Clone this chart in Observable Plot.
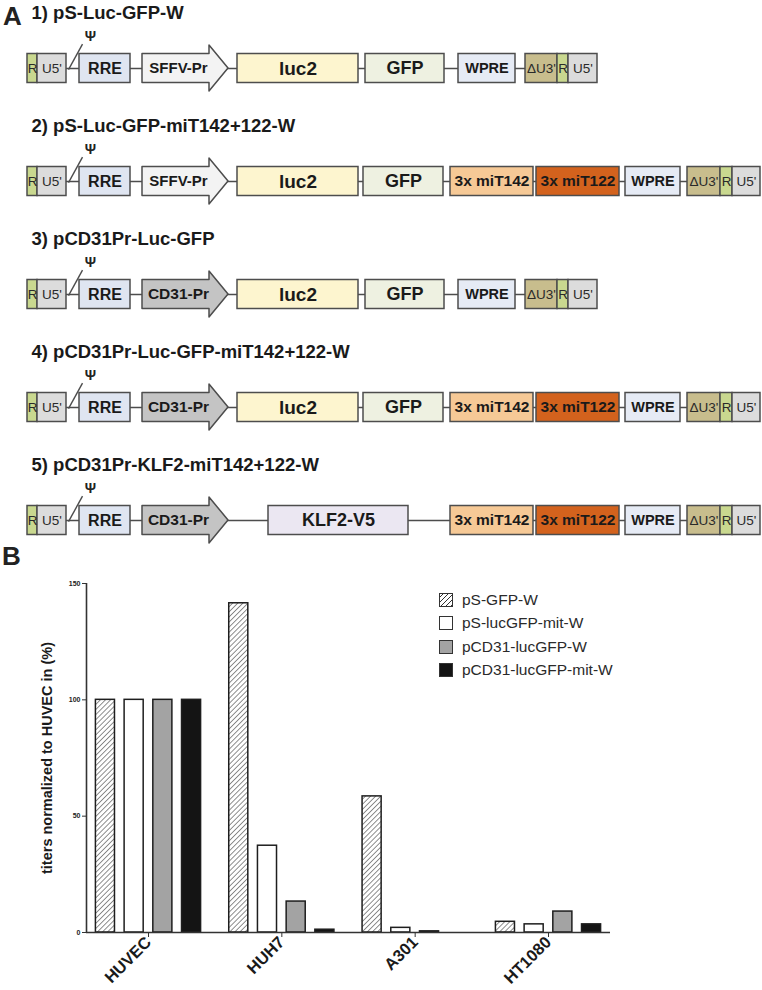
<!DOCTYPE html>
<html><head><meta charset="utf-8">
<script src="https://cdn.jsdelivr.net/npm/d3@7"></script>
<script src="https://cdn.jsdelivr.net/npm/@observablehq/plot@0.6"></script>
<style>
body{margin:0;background:#fff;font-family:"Liberation Sans",Arial,sans-serif;}
#wrap{position:relative;width:762px;height:990px;overflow:hidden;background:#fff;}
#a{position:absolute;left:0;top:0;}
#b{position:absolute;left:0;top:545px;}
.panel{position:absolute;font-weight:bold;font-size:26px;line-height:1;color:#222;}
#legend{position:absolute;left:439px;top:588px;font-size:15.5px;color:#2a2a2a;}
#legend .row{display:flex;align-items:center;height:23.5px;}
#legend .sw{width:12px;height:12px;border:1.4px solid #333;margin-right:9px;box-sizing:content-box;}
</style>
</head><body>
<div id="wrap">
  <div id="a"></div>
  <div id="b"></div>
  <div class="panel" style="left:3px;top:3px;">A</div>
  <div class="panel" style="left:2px;top:543px;">B</div>
  <div id="legend"></div>
</div>
<script>
// ---------- Panel A data: vector maps (feature name, start, end along the drawn construct) ----------
const constructNames = [
  "1) pS-Luc-GFP-W",
  "2) pS-Luc-GFP-miT142+122-W",
  "3) pCD31Pr-Luc-GFP",
  "4) pCD31Pr-Luc-GFP-miT142+122-W",
  "5) pCD31Pr-KLF2-miT142+122-W"
];
const construct1 = [["R",27,37],["U5'",37,66],["RRE",79,130],["SFFV-Pr",142,228],["luc2",237,358],["GFP",365,444],["WPRE",458,515],["ΔU3'",525,557],["R",557,568],["U5'",568,597]];
const construct2 = [["R",27,37],["U5'",37,66],["RRE",79,130],["SFFV-Pr",142,228],["luc2",237,358],["GFP",363,443],["3x miT142",450,533],["3x miT122",536,619],["WPRE",625,680],["ΔU3'",687,720],["R",720,732],["U5'",732,760]];
const construct3 = [["R",27,37],["U5'",37,66],["RRE",79,130],["CD31-Pr",142,228],["luc2",237,358],["GFP",365,444],["WPRE",458,515],["ΔU3'",525,557],["R",557,568],["U5'",568,597]];
const construct4 = [["R",27,37],["U5'",37,66],["RRE",79,130],["CD31-Pr",142,228],["luc2",237,358],["GFP",363,443],["3x miT142",450,533],["3x miT122",536,619],["WPRE",625,680],["ΔU3'",687,720],["R",720,732],["U5'",732,760]];
const construct5 = [["R",27,37],["U5'",37,66],["RRE",79,130],["CD31-Pr",142,228],["KLF2-V5",268,408],["3x miT142",450,533],["3x miT122",536,619],["WPRE",625,680],["ΔU3'",687,720],["R",720,732],["U5'",732,760]];

// ---------- Panel B data ----------
const cellLines = ["HUVEC","HUH7","A301","HT1080"];
const seriesNames = ["pS-GFP-W","pS-lucGFP-mit-W","pCD31-lucGFP-W","pCD31-lucGFP-mit-W"];
const pS_GFP_W = [100, 141.5, 58.5, 4.6];
const pS_lucGFP_mit_W = [100, 37.3, 2.0, 3.5];
const pCD31_lucGFP_W = [100, 13.3, 0.5, 9.0];
const pCD31_lucGFP_mit_W = [100, 1.2, 0, 3.5];
const yTicks = [0, 50, 100, 150];
const yLabel = "titers normalized to HUVEC in (%)";

// ---------- styles ----------
const fills = {"R":"#c9d88f","U5'":"#dcdcdc","RRE":"#dfe5f1","SFFV-Pr":"#f3f3f3","CD31-Pr":"#c4c4c4",
  "luc2":"#fdf5cf","GFP":"#eef1e1","WPRE":"#e6ebf5","ΔU3'":"#c8bd8d","3x miT142":"#f6c996",
  "3x miT122":"#d3621d","KLF2-V5":"#ebe7f2"};
const labelSize = {"luc2":19,"GFP":18,"KLF2-V5":18,"RRE":16,"SFFV-Pr":15,"CD31-Pr":15.5,
  "3x miT142":15.5,"3x miT122":15.5,"WPRE":14.5};
const thinLabels = new Set(["R","U5'","ΔU3'"]);
const seriesFill = ["url(#hatch)","#ffffff","#a3a3a3","#141414"];
const ink = "#4d4d4d";

// ---------- Panel A ----------
const WA = 762, HA = 548, rowTop = 68, rowStep = 113;
const rowsA = [construct1, construct2, construct3, construct4, construct5];
const feats = rowsA.flatMap((row, r) => row.map(([name, start, end]) => ({r, name, start, end})));
const isProm = d => d.name.endsWith("-Pr");
const boxes = feats.filter(d => !isProm(d));
const proms = feats.filter(isProm);
const hb = 14.5 / rowStep, ha = 23 / rowStep, head = 19;
const arrowPts = proms.flatMap((d, k) => [
  {k, name: d.name, x: d.start, y1: d.r - hb, y2: d.r + hb},
  {k, name: d.name, x: d.end - head, y1: d.r - hb, y2: d.r + hb},
  {k, name: d.name, x: d.end - head, y1: d.r - ha, y2: d.r + ha},
  {k, name: d.name, x: d.end, y1: d.r, y2: d.r}
]);
const rowInfo = rowsA.map((row, r) => ({
  r, title: constructNames[r],
  ltrEnd: row[1][2], rreStart: row[2][1],
  first: row[0][1], last: row[row.length - 1][1]
}));

const plotA = Plot.plot({
  width: WA, height: HA, margin: 0,
  style: {fontFamily: "'Liberation Sans', Arial, sans-serif", background: "transparent", overflow: "visible"},
  x: {domain: [0, WA], range: [0, WA], axis: null},
  y: {domain: [-rowTop / rowStep, (HA - rowTop) / rowStep], range: [0, HA], axis: null},
  marks: [
    Plot.ruleY(rowInfo, {y: "r", x1: "ltrEnd", x2: "last", stroke: ink, strokeWidth: 1.4}),
    Plot.link(rowInfo, {x1: d => d.ltrEnd + 2, y1: d => d.r + 0.01, x2: d => d.rreStart + 3, y2: d => d.r - 0.215,
      stroke: ink, strokeWidth: 1.4}),
    Plot.text(rowInfo, {x: d => d.rreStart + 11, y: d => d.r - 0.285, text: () => "Ψ",
      fontSize: 14, fontWeight: "bold", fill: "#222"}),
    Plot.text(rowInfo, {x: d => d.first + 4, y: d => d.r - 0.49, text: "title", textAnchor: "start",
      fontSize: 18.5, fontWeight: "bold", fill: "#1a1a1a"}),
    Plot.rect(boxes, {x1: "start", x2: "end", y1: d => d.r - hb, y2: d => d.r + hb,
      fill: d => fills[d.name], stroke: ink, strokeWidth: 1.5}),
    Plot.areaY(arrowPts, {x: "x", y1: "y1", y2: "y2", z: "k", fill: d => fills[d.name],
      stroke: ink, strokeWidth: 1.5, curve: "linear"}),
    Plot.text(boxes.filter(d => !thinLabels.has(d.name)), {x: d => (d.start + d.end) / 2, y: "r", text: "name",
      fontSize: d => labelSize[d.name], fontWeight: "bold", fill: "#1a1a1a"}),
    Plot.text(proms, {x: d => (d.start + d.end) / 2 - 7, y: "r", text: "name",
      fontSize: d => labelSize[d.name], fontWeight: "bold", fill: "#1a1a1a"}),
    Plot.text(boxes.filter(d => thinLabels.has(d.name)), {x: d => (d.start + d.end) / 2, y: "r", text: "name",
      fontSize: 13.5, fill: "#2a2a2a"})
  ]
});
document.getElementById("a").appendChild(plotA);

// ---------- Panel B ----------
const seriesValues = [pS_GFP_W, pS_lucGFP_mit_W, pCD31_lucGFP_W, pCD31_lucGFP_mit_W];
const bars = seriesValues.flatMap((vals, si) => vals.map((v, gi) => ({gi, si, cell: cellLines[gi], series: seriesNames[si], value: v})))
  .filter(d => d.value > 0);
const slot = 0.2153, halfW = 0.0715;
const xDom = [-0.465, 3.465];
const yDom = [0, 150];

const plotB = Plot.plot({
  width: 762, height: 445,
  marginLeft: 86, marginRight: 152, marginTop: 38, marginBottom: 58,
  style: {fontFamily: "'Liberation Sans', Arial, sans-serif", background: "transparent", overflow: "visible"},
  x: {domain: xDom},
  y: {domain: yDom},
  marks: [
    Plot.rectY(bars, {x1: d => d.gi + (d.si - 1.5) * slot - halfW, x2: d => d.gi + (d.si - 1.5) * slot + halfW,
      y1: 0, y2: "value", fill: d => seriesFill[d.si], stroke: "#1e1e1e", strokeWidth: 1.5}),
    Plot.ruleY([0], {stroke: "#333", strokeWidth: 1.6}),
    Plot.ruleX([xDom[0]], {y1: yDom[0], y2: yDom[1], stroke: "#333", strokeWidth: 1.6}),
    Plot.axisY({ticks: yTicks, tickSize: 4, tickPadding: 2, fontSize: 7, fontWeight: "bold", label: null, stroke: "#333", fill: "#222"}),
    Plot.axisX({ticks: [0, 1, 2, 3], tickFormat: i => cellLines[i], tickRotate: -45, tickSize: 5, tickPadding: 2,
      fontSize: 16.5, fontWeight: "bold", label: null, stroke: "#333", fill: "#1a1a1a"}),
    Plot.text([yLabel], {x: () => xDom[0], y: () => (yDom[0] + yDom[1]) / 2, text: d => d, dx: -39, rotate: -90,
      fontSize: 14.5, fontWeight: "bold", fill: "#1a1a1a"})
  ]
});
const defs = d3.select(plotB).insert("defs", ":first-child");
const pat = defs.append("pattern").attr("id", "hatch").attr("patternUnits", "userSpaceOnUse")
  .attr("width", 3.6).attr("height", 3.6).attr("patternTransform", "rotate(45)");
pat.append("rect").attr("width", 3.6).attr("height", 3.6).attr("fill", "#fff");
pat.append("line").attr("x1", 0).attr("y1", 0).attr("x2", 0).attr("y2", 3.6).attr("stroke", "#333").attr("stroke-width", 1.1);
document.getElementById("b").appendChild(plotB);

// ---------- Legend ----------
const swatchCss = [
  "background:repeating-linear-gradient(135deg,#fff 0 1.6px,#333 1.6px 2.6px,#fff 2.6px 3.6px)",
  "background:#fff", "background:#a3a3a3", "background:#141414"];
const legend = document.getElementById("legend");
seriesNames.forEach((name, i) => {
  const row = document.createElement("div");
  row.className = "row";
  const sw = document.createElement("div");
  sw.className = "sw";
  sw.style.cssText = swatchCss[i];
  const lab = document.createElement("span");
  lab.textContent = name;
  row.appendChild(sw); row.appendChild(lab);
  legend.appendChild(row);
});
</script>
</body></html>
